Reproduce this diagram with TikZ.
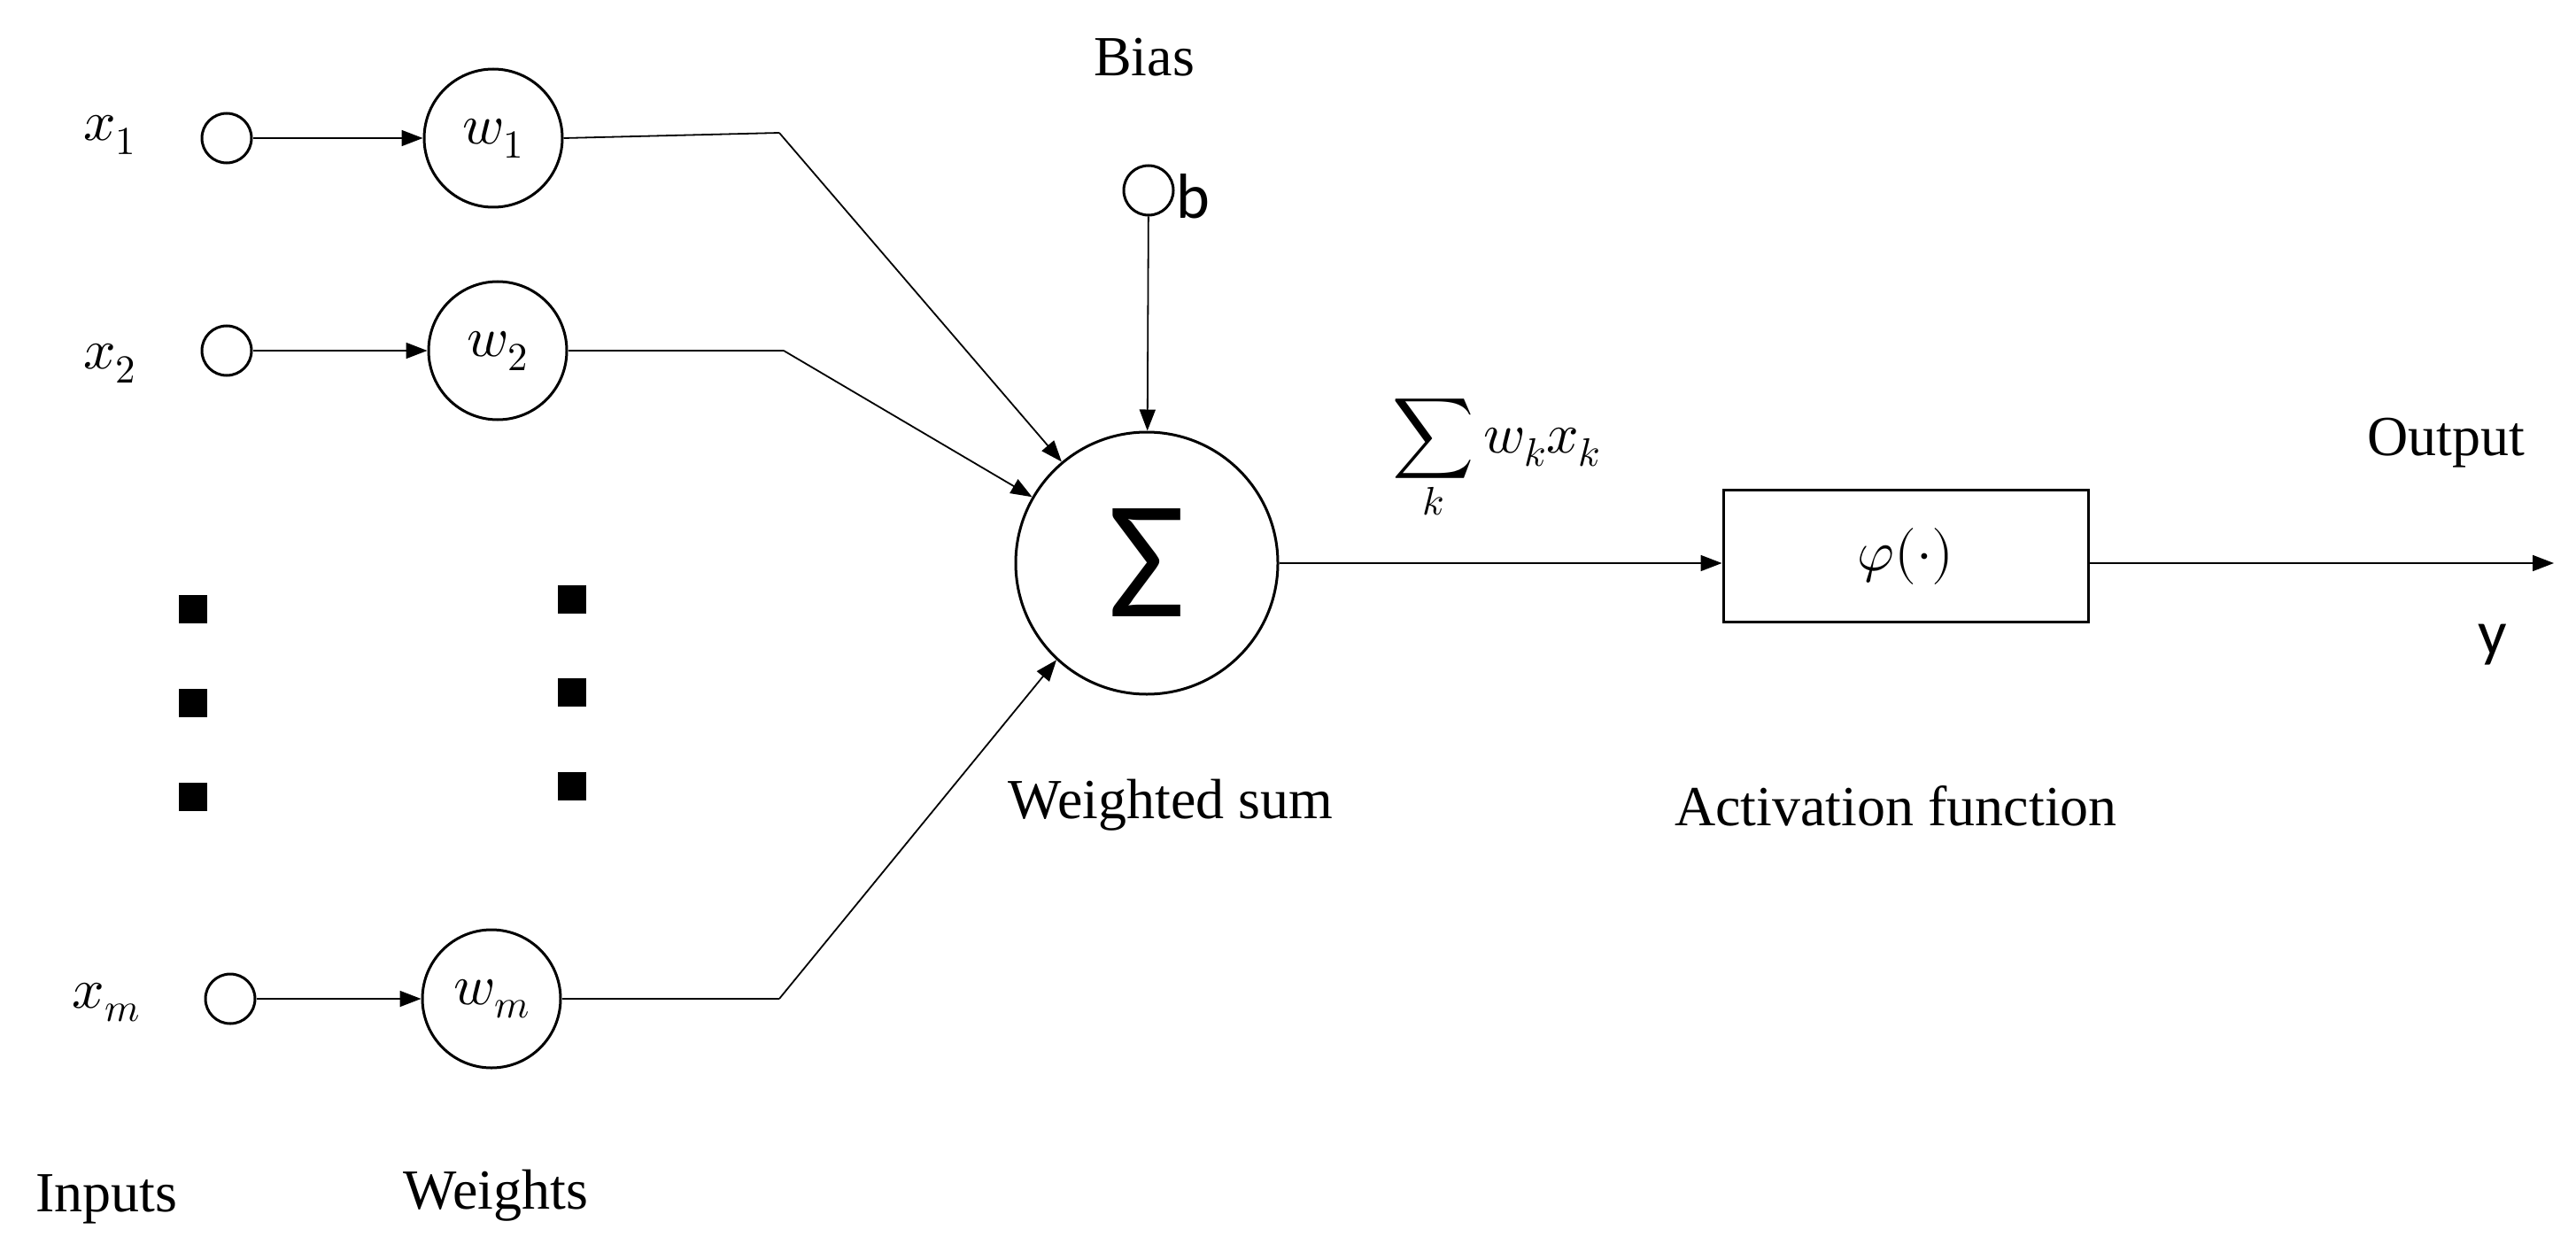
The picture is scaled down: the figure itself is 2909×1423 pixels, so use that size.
\documentclass[tikz,border=0pt]{standalone}
\usepackage{fontspec}
\usepackage{unicode-math}
\setmainfont{Liberation Serif}
\setmathfont{Latin Modern Math}
\newfontfamily\sansf{Carlito}
\usetikzlibrary{arrows.meta}
\begin{document}
\begin{tikzpicture}[x=1pt,y=-1pt,
  every node/.style={font=\fontsize{64}{76}\selectfont},
  inp/.style={draw,circle,line width=3pt,minimum size=56pt,inner sep=0pt},
  wt/.style={draw,circle,line width=3pt,minimum size=156pt,inner sep=0pt},
  con/.style={line width=1.8pt,-{Triangle[length=24pt,width=18pt]}},
  dot/.style={fill=black,minimum size=32pt,inner sep=0pt}]
\useasboundingbox (0,0) rectangle (2909,1423);
% inputs
\node (lx1) at (124,152) {$x_1$};
\node (lx2) at (124,410) {$x_2$};
\node (lxm) at (120,1132) {$x_m$};
\node[inp] (x1) at (256,156) {};
\node[inp] (x2) at (256,396) {};
\node[inp] (xm) at (260,1128) {};
\node[wt] (w1) at (557,156) {$w_1$};
\node[wt] (w2) at (562,396) {$w_2$};
\node[wt] (wm) at (555,1128) {$w_m$};
\draw[con] (x1) -- (w1);
\draw[con] (x2) -- (w2);
\draw[con] (xm) -- (wm);
% dots
\node[dot] (d1) at (218,688) {};
\node[dot] (d2) at (218,794) {};
\node[dot] (d3) at (218,900) {};
\node[dot] (e1) at (646,677) {};
\node[dot] (e2) at (646,782) {};
\node[dot] (e3) at (646,888) {};
% sum
\node[draw,circle,line width=3pt,minimum size=296pt,inner sep=0pt] (s) at (1295,636)
  {\sansf\fontsize{190}{200}\selectfont Σ};
\coordinate (c1) at (880,150);
\coordinate (c2) at (885,396);
\coordinate (cm) at (880,1128);
\draw[line width=1.8pt] (w1.east) -- (c1);
\draw[con] (c1) -- (s.130);
\draw[line width=1.8pt] (w2.east) -- (c2);
\draw[con] (c2) -- (s.150);
\draw[line width=1.8pt] (wm.east) -- (cm);
\draw[con] (cm) -- (s.227);
% bias
\node (bias) at (1292,65) {Bias};
\node[inp] (b) at (1297,215) {};
\node[anchor=west] (bl) at (1325,222) {\sansf\fontsize{72}{80}\selectfont b};
\draw[con] (b) -- (s);
% activation
\node[draw,line width=3pt,minimum width=412pt,minimum height=149pt,inner sep=0pt] (f) at (2152,628) {$\varphi(\cdot)$};
\draw[con] (s) -- (f.west |- s.east);
\coordinate (out) at (2884,636);
\draw[con] (f.east |- s.east) -- (out);
\node (sumf) at (1690,520) {$\displaystyle\sum_{k} w_k x_k$};
\node (ws) at (1322,909) {Weighted sum};
\node (af) at (2141,910) {Activation function};
\node (op) at (2762,500) {Output};
\node (y) at (2815,728) {\sansf\fontsize{72}{80}\selectfont y};
\node (inl) at (120,1354) {Inputs};
\node (wl) at (560,1350) {Weights};
\end{tikzpicture}
\end{document}
